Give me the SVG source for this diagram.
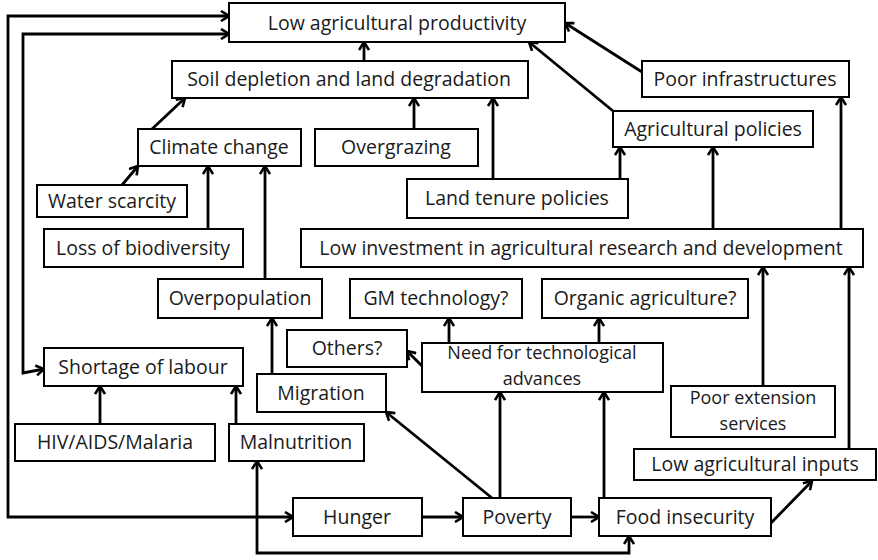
<svg xmlns="http://www.w3.org/2000/svg" width="878" height="560" viewBox="0 0 878 560">
<style>
rect{fill:#fff;stroke:#000;stroke-width:2}
text{font-family:"Open Sans","Liberation Sans",sans-serif;font-size:19.5px;fill:#1a1a1a;text-anchor:middle}
text.two{font-size:18px}
.c path,.c line,.c polyline{fill:none;stroke:#000;stroke-width:2.8;marker-end:url(#ah)}
.c .both{marker-start:url(#ah)}
</style>
<defs>
<marker id="ah" viewBox="0 0 12 12" refX="11" refY="6" markerWidth="12" markerHeight="12" markerUnits="userSpaceOnUse" orient="auto-start-reverse">
<path d="M3,1 L11,6 L3,11" fill="none" stroke="#000" stroke-width="2.6"/>
</marker>
</defs>
<rect x="0" y="0" width="878" height="560" style="fill:#fff;stroke:none"/>
<g class="c" id="connectors">
<polyline class="both" points="229,16 8,16 8,517 293,517"/>
<polyline class="both" points="229,34 23,34 23,373 44,369"/>
<line x1="364" y1="61" x2="364" y2="42"/>
<line x1="152" y1="129" x2="185" y2="98"/>
<line x1="122" y1="185" x2="138" y2="166"/>
<line x1="208" y1="229" x2="208" y2="166"/>
<line x1="265" y1="279" x2="265" y2="166"/>
<line x1="414" y1="129" x2="414" y2="98"/>
<line x1="493" y1="179" x2="493" y2="98"/>
<line x1="620" y1="179" x2="620" y2="147"/>
<line x1="613" y1="111" x2="529" y2="42"/>
<line x1="642" y1="72" x2="565" y2="23"/>
<line x1="713" y1="229" x2="713" y2="147"/>
<line x1="841" y1="229" x2="841" y2="97"/>
<line x1="763" y1="386" x2="763" y2="267"/>
<line x1="849" y1="449" x2="849" y2="267"/>
<line x1="449" y1="343" x2="449" y2="318"/>
<line x1="599" y1="343" x2="599" y2="318"/>
<line x1="422" y1="366" x2="407" y2="351"/>
<line x1="272" y1="374" x2="272" y2="318"/>
<line x1="492" y1="498" x2="386" y2="412"/>
<line x1="500" y1="498" x2="500" y2="392"/>
<line x1="604" y1="498" x2="604" y2="392"/>
<line x1="236" y1="424" x2="236" y2="386"/>
<line x1="100" y1="424" x2="100" y2="386"/>
<line x1="422" y1="517" x2="463" y2="517"/>
<line x1="571" y1="517" x2="599" y2="517"/>
<line x1="771" y1="523" x2="812" y2="481"/>
<polyline class="both" points="257,461 257,553 629,553 629,536"/>
</g>
<g id="n1"><rect x="229" y="3" width="336" height="39"/><text x="397" y="30">Low agricultural productivity</text></g>
<g id="n2"><rect x="172" y="61" width="356" height="37"/><text x="349" y="86">Soil depletion and land degradation</text></g>
<g id="n3"><rect x="138" y="129" width="163" height="37"/><text x="219" y="154">Climate change</text></g>
<g id="n4"><rect x="315" y="129" width="163" height="37"/><text x="396" y="154">Overgrazing</text></g>
<g id="n5"><rect x="642" y="61" width="207" height="36"/><text x="745" y="86">Poor infrastructures</text></g>
<g id="n6"><rect x="613" y="111" width="200" height="36"/><text x="713" y="136">Agricultural policies</text></g>
<g id="n7"><rect x="37" y="185" width="150" height="32"/><text x="112" y="208">Water scarcity</text></g>
<g id="n8"><rect x="44" y="229" width="199" height="38"/><text x="143" y="255">Loss of biodiversity</text></g>
<g id="n9"><rect x="407" y="179" width="221" height="39"/><text x="517" y="205">Land tenure policies</text></g>
<g id="n10"><rect x="301" y="229" width="562" height="38"/><text x="581" y="255">Low investment in agricultural research and development</text></g>
<g id="n11"><rect x="158" y="279" width="164" height="39"/><text x="240" y="305">Overpopulation</text></g>
<g id="n12"><rect x="350" y="279" width="172" height="39"/><text x="436" y="305">GM technology?</text></g>
<g id="n13"><rect x="542" y="279" width="206" height="39"/><text x="645" y="305">Organic agriculture?</text></g>
<g id="n14"><rect x="287" y="330" width="120" height="37"/><text x="347" y="355">Others?</text></g>
<g id="n15"><rect x="422" y="343" width="241" height="49"/><text class="two" x="542" y="359">Need for technological</text><text class="two" x="542" y="384.5">advances</text></g>
<g id="n16"><rect x="257" y="374" width="129" height="38"/><text x="321" y="400">Migration</text></g>
<g id="n17"><rect x="44" y="348" width="199" height="38"/><text x="143" y="374">Shortage of labour</text></g>
<g id="n18"><rect x="15" y="424" width="200" height="37"/><text x="115" y="449">HIV/AIDS/Malaria</text></g>
<g id="n19"><rect x="229" y="424" width="135" height="37"/><text x="296" y="449">Malnutrition</text></g>
<g id="n20"><rect x="293" y="498" width="129" height="38"/><text x="357" y="524">Hunger</text></g>
<g id="n21"><rect x="463" y="498" width="108" height="38"/><text x="517" y="524">Poverty</text></g>
<g id="n22"><rect x="599" y="498" width="172" height="38"/><text x="685" y="524">Food insecurity</text></g>
<g id="n23"><rect x="634" y="449" width="242" height="31"/><text x="755" y="471">Low agricultural inputs</text></g>
<g id="n24"><rect x="671" y="386" width="164" height="51"/><text class="two" x="753" y="404">Poor extension</text><text class="two" x="753" y="429.5">services</text></g>
</svg>
